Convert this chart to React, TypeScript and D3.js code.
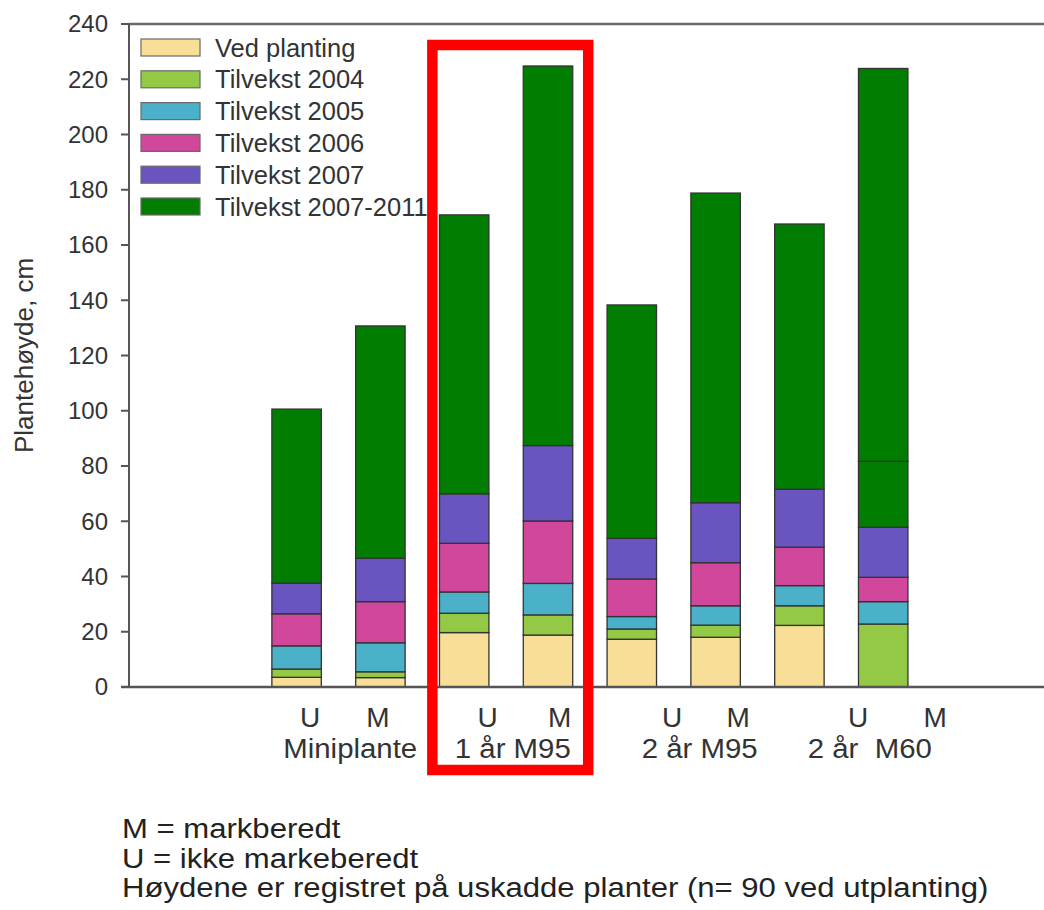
import React from "react";
import * as d3 from "d3";

// ---- data ----
const categories = [
  "Miniplante U", "Miniplante M", "1 år M95 U", "1 år M95 M",
  "2 år M95 U", "2 år M95 M", "2 år M60 U", "2 år M60 M",
];
const vedPlanting = [3.5, 3.4, 19.7, 18.8, 17.3, 18.0, 22.3, 0];
const tilvekst2004 = [3.0, 2.1, 7.0, 7.3, 3.7, 4.4, 7.1, 22.8];
const tilvekst2005 = [8.4, 10.5, 7.7, 11.4, 4.5, 7.0, 7.3, 8.1];
const tilvekst2006 = [11.6, 14.9, 17.6, 22.6, 13.6, 15.6, 13.9, 8.8];
const tilvekst2007 = [11.1, 15.7, 17.9, 27.3, 14.7, 21.7, 21.0, 18.1];
const tilvekst2007_2011 = [63.0, 84.1, 101.0, 137.4, 84.5, 112.1, 96.0, 23.9];
const tilvekstExtra = [0, 0, 0, 0, 0, 0, 0, 142.2];

const seriesNames = [
  "Ved planting", "Tilvekst 2004", "Tilvekst 2005",
  "Tilvekst 2006", "Tilvekst 2007", "Tilvekst 2007-2011",
];
const seriesColors = ["#F8DE96", "#93C945", "#4AB1C8", "#D1479C", "#6954C0", "#017D01"];

const yTicks = [0, 20, 40, 60, 80, 100, 120, 140, 160, 180, 200, 220, 240];
const subLabels = ["U", "M", "U", "M", "U", "M", "U", "M"];
const groupLabels = ["Miniplante", "1 år M95", "2 år M95", "2 år  M60"];
const footnotes = [
  "M = markberedt",
  "U = ikke markeberedt",
  "Høydene er registret på uskadde planter (n= 90 ved utplanting)",
];

// ---- layout ----
const W = 1044, H = 910;
const X0 = 129, Y0 = 687, YTOP = 24;
const subLabelPos = [2.16, 2.97, 4.28, 5.14, 6.48, 7.27, 8.70, 9.62];
const groupLabelPos = [2.64, 4.58, 6.81, 8.84];
const FONT = "'Liberation Sans', Arial, Helvetica, sans-serif";

export default function App() {
  const x = d3.scaleLinear().domain([0, 11]).range([X0, X0 + 11 * 83.8]);
  const y = d3.scaleLinear().domain([0, 240]).range([Y0, YTOP]);
  const barW = x(0.59) - x(0);

  const rows = categories.map((c, i) => ({
    cat: c,
    s0: vedPlanting[i], s1: tilvekst2004[i], s2: tilvekst2005[i],
    s3: tilvekst2006[i], s4: tilvekst2007[i], s5: tilvekst2007_2011[i], s6: tilvekstExtra[i],
  }));
  const keys = ["s0", "s1", "s2", "s3", "s4", "s5", "s6"];
  const stacked = d3.stack<any>().keys(keys)(rows);
  const colorOf = (k: number) => seriesColors[Math.min(k, 5)];

  return (
    <svg width={W} height={H} style={{ position: "absolute", left: 0, top: 0, background: "#fff" }}
      fontFamily={FONT}>
      {/* frame */}
      <line x1={X0} x2={W} y1={YTOP} y2={YTOP} stroke="#6b6b6b" strokeWidth={2.5} />
      <line x1={X0} x2={X0} y1={YTOP} y2={Y0} stroke="#555" strokeWidth={2} />
      {/* bars */}
      {stacked.map((layer, k) =>
        layer.map((d, i) => {
          const h = y(d[0]) - y(d[1]);
          if (h <= 0) return null;
          return (
            <rect key={`${k}-${i}`} x={x(i + 2) - barW / 2} y={y(d[1])} width={barW} height={h}
              fill={colorOf(k)} stroke="#333" strokeWidth={1.3} />
          );
        })
      )}
      <line x1={X0 - 8} x2={W} y1={Y0} y2={Y0} stroke="#555" strokeWidth={2.5} />
      {/* y ticks */}
      {yTicks.map((t) => (
        <g key={t}>
          <line x1={X0 - 8} x2={X0} y1={y(t)} y2={y(t)} stroke="#555" strokeWidth={2} />
          <text x={108} y={y(t)} dy="0.35em" textAnchor="end" fontSize={24} fill="#333">{t}</text>
        </g>
      ))}
      <text transform={`translate(33,${(YTOP + Y0) / 2}) rotate(-90)`} textAnchor="middle"
        fontSize={26} fill="#333">Plantehøyde, cm</text>
      {/* legend */}
      {seriesNames.map((n, i) => (
        <g key={n}>
          <rect x={141} y={39 + i * 31.8} width={59} height={17} fill={seriesColors[i]}
            stroke="#6a6a6a" strokeWidth={1.2} />
          <text x={215} y={47.5 + i * 31.8} dy="0.36em" fontSize={25.5} fill="#333">{n}</text>
        </g>
      ))}
      {/* x labels */}
      {subLabels.map((l, i) => (
        <text key={i} x={x(subLabelPos[i])} y={727} textAnchor="middle" fontSize={28} fill="#333">{l}</text>
      ))}
      {groupLabels.map((l, i) => (
        <text key={i} transform={`translate(${x(groupLabelPos[i])},758) scale(1.05,1)`}
          textAnchor="middle" fontSize={28} fill="#333" style={{ whiteSpace: "pre" }}>{l}</text>
      ))}
      {/* highlight box */}
      <rect x={x(3.62)} y={45} width={x(5.48) - x(3.62)} height={770 - 45} fill="none"
        stroke="#FF0000" strokeWidth={10.5} />
      {/* footnotes */}
      {footnotes.map((f, i) => (
        <text key={i} transform={`translate(122,${838 + i * 29.5}) scale(1.11,1)`}
          fontSize={28} fill="#222">{f}</text>
      ))}
    </svg>
  );
}
